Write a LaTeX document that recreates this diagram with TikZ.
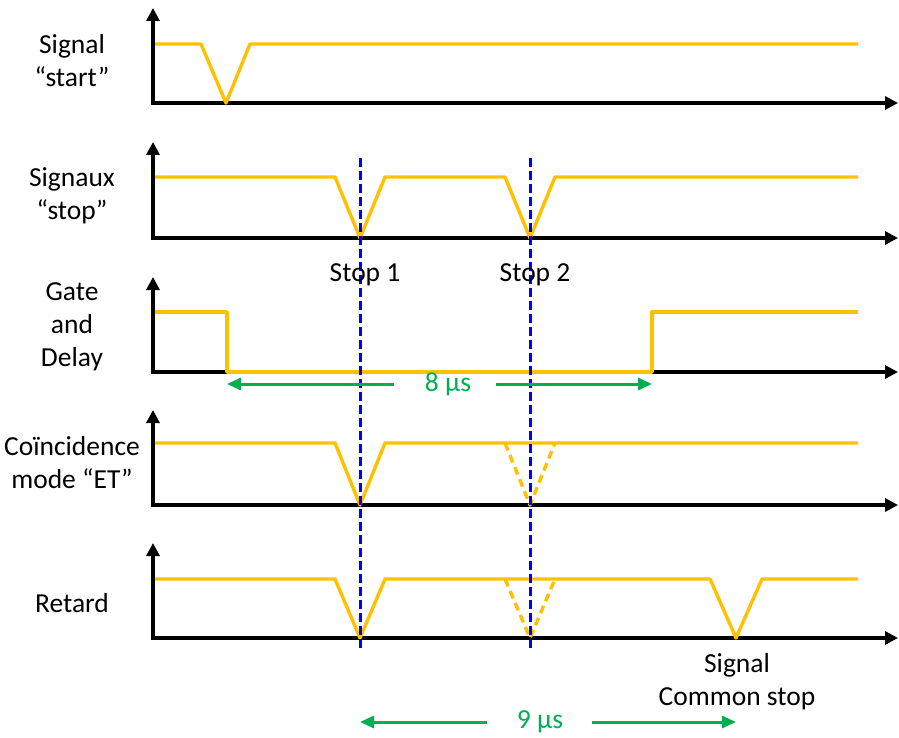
\documentclass[tikz,border=0pt]{standalone}
\usepackage{fontspec}
\setmainfont{Carlito}
\usetikzlibrary{arrows.meta}
\definecolor{sigyel}{HTML}{FFC000}
\definecolor{arrgreen}{HTML}{00B050}
\definecolor{stopblue}{HTML}{0000FF}
\begin{document}
\begin{tikzpicture}[x=1pt,y=-1pt,
  axis/.style={line width=3.2pt,black,{Triangle[length=13pt,width=13pt]}-{Triangle[length=13pt,width=13pt]}},
  sig/.style={line width=3.4pt,sigyel,line join=round},
  sigdash/.style={sig,dash pattern=on 8pt off 5pt},
  stopline/.style={line width=3pt,stopblue,dash pattern=on 9pt off 4pt},
  span/.style={line width=3pt,arrgreen},
  lbl/.style={font=\fontsize{27.5}{33}\selectfont,align=center,inner sep=0pt},
  glbl/.style={lbl,text=arrgreen}]
\useasboundingbox (0,0) rectangle (899,738);
% axes
\draw[axis] (153,8) |- (898,103);
\draw[axis] (153,142) |- (898,238);
\draw[axis] (153,277) |- (898,372);
\draw[axis] (153,410) |- (898,505);
\draw[axis] (153,543) |- (898,638);
% labels
\node[lbl] (l1) at (72,61) {Signal\\“start”};
\node[lbl] (l2) at (72,196) {Signaux\\“stop”};
\node[lbl] (l3) at (72,327) {Gate\\and\\Delay};
\node[lbl] (l4) at (72,463) {Coïncidence\\mode “ET”};
\node[lbl] (l5) at (72,603) {Retard};
% signals
\draw[sig] (155,44) -- (201,44) -- (226,103) -- (250,44) -- (858,44);
\draw[sig] (155,177) -- (335,177) -- (360,238) -- (385,177) -- (505,177) -- (530,238) -- (555,177) -- (858,177);
\draw[sig] (155,312) -- (227,312) -- (227,372) -- (652,372) -- (652,312) -- (858,312);
\draw[sig] (155,443) -- (335,443) -- (360,505) -- (385,443) -- (858,443);
\draw[sigdash] (505,443) -- (530,505) -- (555,443);
\draw[sig] (155,579) -- (335,579) -- (360,638) -- (385,579) -- (710,579) -- (736,638) -- (762,579) -- (858,579);
\draw[sigdash] (505,579) -- (530,638) -- (555,579);
% stop lines
\coordinate (s1t) at (360,158);
\coordinate (s1b) at (360,651);
\coordinate (s2t) at (530,158);
\coordinate (s2b) at (530,651);
\draw[stopline] (s1t) -- (s1b);
\draw[stopline] (s2t) -- (s2b);
\node[lbl] (st1) at (365,275) {Stop 1};
\node[lbl] (st2) at (535,275) {Stop 2};
\node[lbl] (csig) at (737,682) {Signal\\Common stop};
% spans
\node[glbl] (g8) at (448,384) {8 µs};
\coordinate (g8l) at (227,384);
\coordinate (g8r) at (652,384);
\draw[span,-{Triangle[length=14pt,width=12pt]}] ([xshift=-54pt]g8.center) -- (g8l);
\draw[span,-{Triangle[length=14pt,width=12pt]}] ([xshift=48pt]g8.center) -- (g8r);
\node[glbl] (g9) at (540,722) {9 µs};
\coordinate (g9l) at (360,722);
\coordinate (g9r) at (736,722);
\draw[span,-{Triangle[length=14pt,width=12pt]}] ([xshift=-53pt]g9.center) -- (g9l);
\draw[span,-{Triangle[length=14pt,width=12pt]}] ([xshift=52pt]g9.center) -- (g9r);
\end{tikzpicture}
\end{document}
